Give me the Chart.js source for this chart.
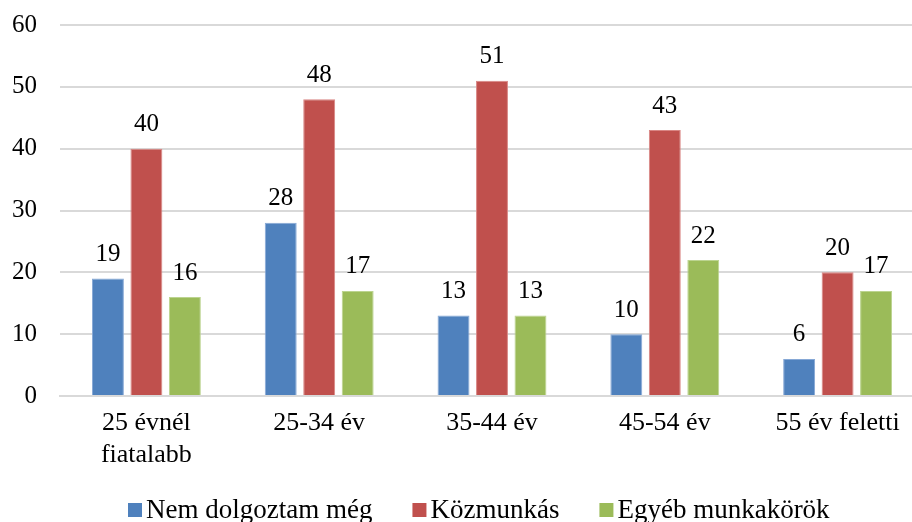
<!DOCTYPE html>
<html>
<head>
<meta charset="utf-8">
<script src="https://cdn.jsdelivr.net/npm/chart.js@4"></script>
<style>
html,body{margin:0;padding:0;background:#fff;overflow:hidden;}
#wrap{width:912px;height:522px;overflow:hidden;position:relative;}
#box{width:926px;height:522px;position:absolute;left:0;top:0;}
</style>
</head>
<body>
<div id="wrap"><div id="box"><canvas id="c"></canvas></div></div>
<script>
const categories = [["25 évnél","fiatalabb"], "25-34 év", "35-44 év", "45-54 év", "55 év feletti"];
const seriesNames = ["Nem dolgoztam még", "Közmunkás", "Egyéb munkakörök"];
const nemDolgoztam = [19, 28, 13, 10, 6];
const kozmunkas = [40, 48, 51, 43, 20];
const egyeb = [16, 17, 13, 22, 17];
const yTicks = [0, 10, 20, 30, 40, 50, 60];

const colors = ["#4F81BD", "#C0504D", "#9BBB59"];
const borders = ["#86A8D6", "#D98684", "#BCD490"];
const FONT = "'Liberation Serif', serif";

const valueLabels = {
  id: 'valueLabels',
  afterDatasetsDraw(chart) {
    const ctx = chart.ctx;
    ctx.save();
    ctx.font = "25px " + FONT;
    ctx.fillStyle = "#000";
    ctx.textAlign = "center";
    ctx.textBaseline = "middle";
    chart.data.datasets.forEach((ds, i) => {
      chart.getDatasetMeta(i).data.forEach((bar, j) => {
        ctx.fillText(String(ds.data[j]), bar.x, bar.y - 24);
      });
    });
    ctx.restore();
  }
};

const customLegend = {
  id: 'customLegend',
  afterDraw(chart) {
    const ctx = chart.ctx;
    ctx.save();
    ctx.font = "27px " + FONT;
    ctx.textBaseline = "middle";
    ctx.textAlign = "left";
    const box = 14, gapText = 4, gapItem = 40;
    const items = chart.data.datasets.map(ds => ({label: ds.label, color: ds.backgroundColor, w: ctx.measureText(ds.label).width}));
    let total = 0;
    items.forEach((it, i) => { total += box + gapText + it.w + (i < items.length - 1 ? gapItem : 0); });
    let x = Math.round(479 - total / 2);
    const y = 510;
    items.forEach(it => {
      ctx.fillStyle = it.color;
      ctx.fillRect(x, y - box / 2, box, box);
      x += box + gapText;
      ctx.fillStyle = "#000";
      ctx.fillText(it.label, x, y + 1);
      x += it.w + gapItem;
    });
    ctx.restore();
  }
};

new Chart(document.getElementById('c'), {
  type: 'bar',
  data: {
    labels: categories,
    datasets: [
      {label: seriesNames[0], data: nemDolgoztam, backgroundColor: colors[0], borderColor: borders[0], borderWidth: 1},
      {label: seriesNames[1], data: kozmunkas, backgroundColor: colors[1], borderColor: borders[1], borderWidth: 1},
      {label: seriesNames[2], data: egyeb, backgroundColor: colors[2], borderColor: borders[2], borderWidth: 1}
    ]
  },
  options: {
    responsive: true, maintainAspectRatio: false, animation: false,
    categoryPercentage: 0.668, barPercentage: 0.83,
    layout: {padding: {top: 25, right: 2}},
    plugins: {legend: {display: false}, tooltip: {enabled: false}},
    scales: {
      x: {
        grid: {display: false, drawTicks: false},
        border: {display: true, color: "#D9D9D9", width: 2},
        ticks: {color: "#000", font: {family: FONT, size: 26, lineHeight: 1.2}, padding: 12, maxRotation: 0, autoSkip: false},
        afterFit(scale) { scale.height = 126; }
      },
      y: {
        min: 0, max: 60,
        afterBuildTicks(scale) { scale.ticks = yTicks.map(v => ({value: v})); },
        grid: {color: "#D9D9D9", lineWidth: 2, drawTicks: false},
        border: {display: false},
        ticks: {color: "#000", font: {family: FONT, size: 25}, padding: 23},
        afterFit(scale) { scale.width = 60; scale.paddingTop = 0; scale.paddingBottom = 0; }
      }
    }
  },
  plugins: [valueLabels, customLegend]
});
</script>
</body>
</html>
